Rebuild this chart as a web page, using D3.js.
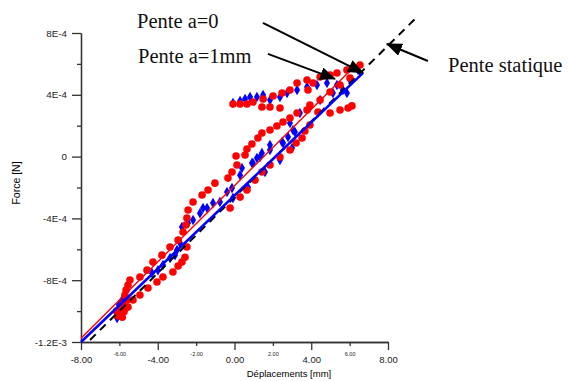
<!DOCTYPE html>
<html>
	<head>
		<meta http-equiv="Content-Type" content="text/html;charset=utf-8"/>
		<title>Force - deplacement</title>
		<script type="text/javascript" src="https://cdn.jsdelivr.net/npm/d3@7/dist/d3.min.js"></script>
		<style type="text/css">
			body { margin: 0; background: #fff; }
			.axis path, .axis line { stroke: #333; stroke-width: 1.3; }
			.axis text { font-family: "Liberation Sans", Arial, sans-serif; fill: #222; }
			.note { font-family: "Liberation Serif", "Times New Roman", serif; font-size: 20.5px; fill: #111; }
		</style>
	</head>
	<body>
		<script type="text/javascript">

			//Tick values and their labels
			var xMajor = [-8, -4, 0, 4, 8],
				xMajorLabels = ["-8.00", "-4.00", "0.00", "4.00", "8.00"],
				xMinor = [-6, -2, 2, 6],
				xMinorLabels = ["-6.00", "-2.00", "2.00", "6.00"];
			var yMajor = [-12e-4, -8e-4, -4e-4, 0, 4e-4, 8e-4],
				yMajorLabels = ["-1.2E-3", "-8E-4", "-4E-4", "0", "4E-4", "8E-4"],
				yMinor = [-10e-4, -6e-4, -2e-4, 2e-4, 6e-4];

			//Measured points, a = 0 (red circles), x in mm, force in N
			var redX = [-6.07, -5.92, -5.76, -5.97, -5.65, -5.81, -5.60, -5.71, -5.65, -5.55, -5.45,
				-4.93, -4.56, -4.25, -3.78, -3.36, -2.94, -2.68, -2.53, -2.48, -2.42, -2.16, -1.69, -1.38,
				-1.02, -0.34, -0.13, 0.13, 0.08, 0.55, 0.65, 0.91, 1.22, 1.43, 1.85, 2.21, 2.53, 2.89, 3.26,
				-5.55, -5.29, -4.93, -4.51, -4.04, -3.73, -3.21, -2.94, -2.74, -2.58, -2.48,
				-0.23, 0.29, 0.65, 1.07, 1.43, 1.85, 2.37, 2.89, 3.21, 3.52, 3.67, 3.93,
				3.78, 4.35, 4.98, 5.50, 5.92, 6.12,
				-0.08, 0.29, 0.65, 0.96, 1.49, 2.01, 2.48, 2.89, 1.43, 1.85, 2.37,
				3.26, 3.78, 4.46, 4.98, 5.34, 5.86, 6.28, 6.54, 3.83, 4.09,
				3.93, 4.46, 4.98, 5.50, 6.02, -6.15, -5.85];
			var redY = [-10.31, -10.18, -10.05, -9.86, -9.79, -9.54, -9.28, -8.96, -8.63, -8.31, -7.99,
				-7.79, -7.35, -6.83, -6.38, -5.85, -5.40, -4.88, -4.43, -3.97, -3.46, -2.94, -2.49, -2.16,
				-1.72, -1.39, -1.00, -0.54, 0.04, 0.10, 0.49, 0.82, 1.20, 1.53, 1.72, 1.98, 2.24, 2.50, 2.82,
				-9.73, -9.28, -8.96, -8.50, -8.12, -7.79, -7.47, -7.08, -6.83, -6.51, -5.85,
				-3.33, -2.62, -2.16, -1.52, -1.00, -0.54, -0.03, 0.43, 0.88, 1.20, 1.66, 2.05,
				3.02, 2.89, 2.82, 3.02, 3.15, 3.28,
				3.40, 3.40, 3.40, 3.53, 3.73, 3.92, 4.12, 4.31, 3.21, 3.21, 3.15,
				4.76, 4.96, 5.15, 5.28, 5.41, 5.61, 5.73, 5.93, 4.31, 4.76,
				3.34, 3.66, 4.18, 4.63, 5.09, -10.0, -10.4].map(function(v) { return v * 1e-4; });

			//Measured points, a = 1 mm (blue diamonds)
			var blueX = [-6.12, -5.97, -5.81, -6.02, -5.86, -4.30, -3.99, -3.73, -3.36, -3.10, -3.00, -2.84,
				-2.74, -2.42, -2.16, -1.80, -1.43, -1.12, -0.76, -0.39, -0.13, 0.29, 0.39, 0.91, 1.17, 1.43,
				1.85, 2.48, 2.79, 3.15,
				-1.64, -0.08, 0.70, 1.59, 2.37, 3.00, 2.89, 3.41, 3.93, 4.46, 5.13, 3.05, 2.53, 1.85, 1.33, 0.96,
				-0.08, 0.29, 0.55, 0.81, 1.17, 1.49, 1.85, 2.37, 2.74, 3.26, 3.78, 4.30, 4.82, 5.34, 5.65, 5.86,
				6.02, 6.44];
			var blueY = [-10.44, -10.18, -9.92, -9.60, -9.28, -7.53, -7.35, -7.02, -6.57, -6.38, -6.05, -5.59,
				-4.56, -4.30, -4.10, -3.66, -3.33, -3.01, -2.94, -2.29, -2.04, -1.20, -0.74, -0.41, -0.09, 0.23,
				0.75, 0.94, 1.27, 1.59,
				-3.33, -2.68, -1.98, -1.00, -0.22, 0.56, 2.17, 2.82, 3.21, 3.66, 4.12, 1.72, 0.88, 0.43, -0.03, -0.41,
				3.47, 3.60, 3.73, 3.86, 3.86, 3.99, 3.66, 3.86, 4.12, 4.31, 4.50, 4.63, 4.76, 4.63, 4.31, 4.12,
				4.96, 5.61].map(function(v) { return v * 1e-4; });

			//Fitted slopes: [start, end]
			var slopeRedX = [-8.0, 6.3], slopeRedY = [-11.75e-4, 5.9e-4];
			var slopeBlueX = [-8.0, 6.7], slopeBlueY = [-12.0e-4, 5.42e-4];
			var slopeStatX = [-7.53, 9.4], slopeStatY = [-11.87e-4, 8.9e-4];

			//Annotations
			var notes = ["Pente a=0", "Pente a=1mm", "Pente statique"];
			var arrowFromX = [1.48, 1.74, 10.08], arrowFromY = [8.65e-4, 6.65e-4, 6.19e-4];
			var arrowToX = [6.70, 5.24, 7.94], arrowToY = [5.42e-4, 5.03e-4, 7.29e-4];

			var w = 568,
				h = 381;

			var svg = d3.select("body").append("svg")
						.attr("width", w)
						.attr("height", h);

			var x = d3.scaleLinear().domain([-8, 8]).range([81, 388]);
			var y = d3.scaleLinear().domain([-12e-4, 8e-4]).range([342, 33]);

			//Axes
			svg.append("g")
				.attr("class", "axis")
				.attr("transform", "translate(81,0)")
				.call(d3.axisLeft(y).tickValues(yMinor).tickSize(4).tickSizeOuter(0).tickFormat(""));
			svg.append("g")
				.attr("class", "axis")
				.attr("transform", "translate(81,0)")
				.call(d3.axisLeft(y).tickValues(yMajor).tickSize(9).tickSizeOuter(0).tickPadding(5)
					.tickFormat(function(d, i) { return yMajorLabels[i]; }))
				.selectAll("text").style("font-size", "9.8px");

			svg.append("g")
				.attr("class", "axis")
				.attr("transform", "translate(0,342)")
				.call(d3.axisBottom(x).tickValues(xMinor).tickSize(4).tickSizeOuter(0).tickPadding(6)
					.tickFormat(function(d, i) { return xMinorLabels[i]; }))
				.selectAll("text").style("font-size", "5.5px");
			svg.append("g")
				.attr("class", "axis")
				.attr("transform", "translate(0,342)")
				.call(d3.axisBottom(x).tickValues(xMajor).tickSize(8).tickSizeOuter(0).tickPadding(6)
					.tickFormat(function(d, i) { return xMajorLabels[i]; }))
				.selectAll("text").style("font-size", "9.5px");

			svg.selectAll(".axis .domain").style("stroke", "#333");

			svg.append("text")
				.attr("x", 289).attr("y", 377)
				.attr("text-anchor", "middle")
				.style("font-family", "Liberation Sans, Arial, sans-serif")
				.style("font-size", "9.5px")
				.text("Déplacements [mm]");

			svg.append("text")
				.attr("transform", "translate(20,183) rotate(-90)")
				.attr("text-anchor", "middle")
				.style("font-family", "Liberation Sans, Arial, sans-serif")
				.style("font-size", "10.5px")
				.text("Force [N]");

			//Points
			var diamond = d3.symbol().type(d3.symbolDiamond).size(32);
			svg.selectAll("path.blue")
				.data(d3.range(blueX.length))
				.enter()
				.append("path")
				.attr("class", "blue")
				.attr("d", diamond)
				.attr("transform", function(i) { return "translate(" + x(blueX[i]) + "," + y(blueY[i]) + ")"; })
				.attr("fill", "#0000ff");

			svg.selectAll("circle.red")
				.data(d3.range(redX.length))
				.enter()
				.append("circle")
				.attr("class", "red")
				.attr("cx", function(i) { return x(redX[i]); })
				.attr("cy", function(i) { return y(redY[i]); })
				.attr("r", 3.8)
				.attr("fill", "#ff0000");

			//Slope lines
			var line = d3.line()
				.x(function(d) { return x(d[0]); })
				.y(function(d) { return y(d[1]); });

			svg.append("path")
				.attr("d", line(d3.zip(slopeStatX, slopeStatY)))
				.attr("fill", "none").attr("stroke", "#000")
				.attr("stroke-width", 2).attr("stroke-dasharray", "8,6");
			svg.append("path")
				.attr("d", line(d3.zip(slopeBlueX, slopeBlueY)))
				.attr("fill", "none").attr("stroke", "#0000ff").attr("stroke-width", 2.6);
			svg.append("path")
				.attr("d", line(d3.zip(slopeRedX, slopeRedY)))
				.attr("fill", "none").attr("stroke", "#ff0000").attr("stroke-width", 1.4);

			//Arrows and notes
			svg.append("defs").append("marker")
				.attr("id", "head")
				.attr("viewBox", "0 0 16 13")
				.attr("refX", 15).attr("refY", 6.5)
				.attr("markerWidth", 16).attr("markerHeight", 13)
				.attr("markerUnits", "userSpaceOnUse")
				.attr("orient", "auto")
				.append("path")
				.attr("d", "M0,0L16,6.5L0,13Z")
				.attr("fill", "#000");

			svg.selectAll("line.arrow")
				.data(d3.range(notes.length))
				.enter()
				.append("line")
				.attr("class", "arrow")
				.attr("x1", function(i) { return x(arrowFromX[i]); })
				.attr("y1", function(i) { return y(arrowFromY[i]); })
				.attr("x2", function(i) { return x(arrowToX[i]); })
				.attr("y2", function(i) { return y(arrowToY[i]); })
				.attr("stroke", "#000")
				.attr("stroke-width", 2)
				.attr("marker-end", "url(#head)");

			var notePos = [[137, 28], [138, 63], [448, 72]];
			svg.selectAll("text.note")
				.data(notes)
				.enter()
				.append("text")
				.attr("class", "note")
				.attr("x", function(d, i) { return notePos[i][0]; })
				.attr("y", function(d, i) { return notePos[i][1]; })
				.text(function(d) { return d; });

		</script>
	</body>
</html>
